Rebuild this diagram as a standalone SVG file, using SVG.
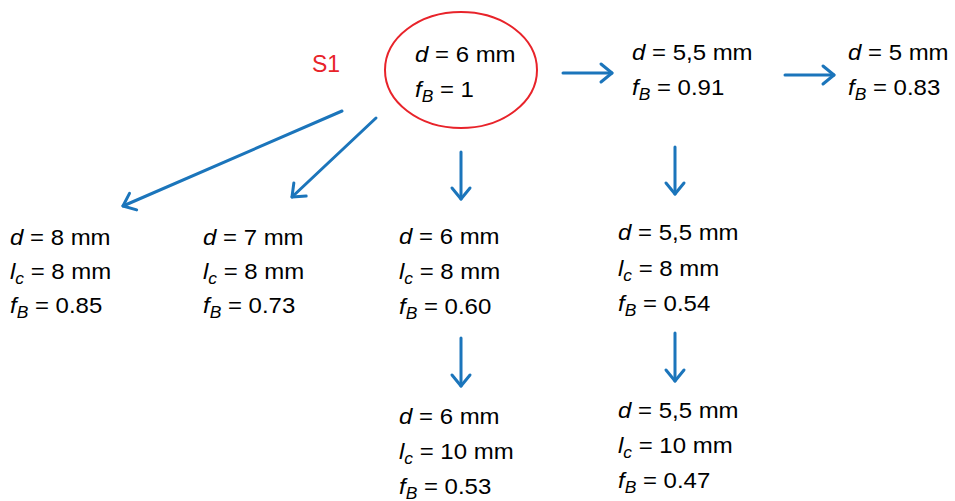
<svg xmlns="http://www.w3.org/2000/svg" width="955" height="501" viewBox="0 0 955 501">
<defs>
<marker id="ah" markerUnits="userSpaceOnUse" markerWidth="30" markerHeight="30" refX="0" refY="0" viewBox="-15 -15 30 30" orient="auto" overflow="visible">
<path d="M-11,-9 L0,0 L-11,9" fill="none" stroke="#1b75bb" stroke-width="3" stroke-linecap="round" stroke-linejoin="round"/>
</marker>
</defs>
<style>
text{font-family:"Liberation Sans",Arial,sans-serif;font-size:22px;fill:#000}
.i{font-style:italic}
.s{font-style:italic;font-size:16px}
.red{fill:#e8232a;font-size:23px}
.c{fill:none;stroke:#1b75bb;stroke-width:3;stroke-linecap:round;marker-end:url(#ah)}
</style>
<rect width="955" height="501" fill="#fff"/>
<g id="connectors">
<line class="c" x1="342" y1="111" x2="123" y2="206"/>
<line class="c" x1="376" y1="118" x2="292" y2="197"/>
<line class="c" x1="461" y1="152" x2="461" y2="199"/>
<line class="c" x1="563" y1="73" x2="612" y2="73"/>
<line class="c" x1="785" y1="75" x2="834" y2="75"/>
<line class="c" x1="675" y1="147" x2="675" y2="194"/>
<line class="c" x1="461" y1="338" x2="461" y2="386"/>
<line class="c" x1="675" y1="333" x2="675" y2="381"/>
</g>
<g id="S1"><text class="red" x="312" y="72">S1</text></g>
<g id="n_d6_root">
<ellipse cx="461" cy="70" rx="76" ry="58" fill="none" stroke="#e8232a" stroke-width="2"/>
<g transform="translate(415,62) scale(1.09,1)">
<text x="0" y="0"><tspan class="i">d</tspan> = 6 mm</text>
<text x="0" y="35"><tspan class="i">f</tspan><tspan class="s" dy="5">B</tspan><tspan dy="-5"> = 1</tspan></text>
</g>
</g>
<g id="n_d55" transform="translate(632,60) scale(1.09,1)">
<text x="0" y="0"><tspan class="i">d</tspan> = 5,5 mm</text>
<text x="0" y="35"><tspan class="i">f</tspan><tspan class="s" dy="5">B</tspan><tspan dy="-5"> = 0.91</tspan></text>
</g>
<g id="n_d5" transform="translate(848,60) scale(1.09,1)">
<text x="0" y="0"><tspan class="i">d</tspan> = 5 mm</text>
<text x="0" y="35"><tspan class="i">f</tspan><tspan class="s" dy="5">B</tspan><tspan dy="-5"> = 0.83</tspan></text>
</g>
<g id="n_d8" transform="translate(10,245) scale(1.09,1)">
<text x="0" y="0"><tspan class="i">d</tspan> = 8 mm</text>
<text x="0" y="34"><tspan class="i">l</tspan><tspan class="s" dy="5">c</tspan><tspan dy="-5"> = 8 mm</tspan></text>
<text x="0" y="68"><tspan class="i">f</tspan><tspan class="s" dy="5">B</tspan><tspan dy="-5"> = 0.85</tspan></text>
</g>
<g id="n_d7" transform="translate(203,245) scale(1.09,1)">
<text x="0" y="0"><tspan class="i">d</tspan> = 7 mm</text>
<text x="0" y="34"><tspan class="i">l</tspan><tspan class="s" dy="5">c</tspan><tspan dy="-5"> = 8 mm</tspan></text>
<text x="0" y="68"><tspan class="i">f</tspan><tspan class="s" dy="5">B</tspan><tspan dy="-5"> = 0.73</tspan></text>
</g>
<g id="n_d6_l8" transform="translate(399,244) scale(1.09,1)">
<text x="0" y="0"><tspan class="i">d</tspan> = 6 mm</text>
<text x="0" y="35"><tspan class="i">l</tspan><tspan class="s" dy="5">c</tspan><tspan dy="-5"> = 8 mm</tspan></text>
<text x="0" y="70"><tspan class="i">f</tspan><tspan class="s" dy="5">B</tspan><tspan dy="-5"> = 0.60</tspan></text>
</g>
<g id="n_d55_l8" transform="translate(618,240) scale(1.09,1)">
<text x="0" y="0"><tspan class="i">d</tspan> = 5,5 mm</text>
<text x="0" y="36"><tspan class="i">l</tspan><tspan class="s" dy="5">c</tspan><tspan dy="-5"> = 8 mm</tspan></text>
<text x="0" y="71"><tspan class="i">f</tspan><tspan class="s" dy="5">B</tspan><tspan dy="-5"> = 0.54</tspan></text>
</g>
<g id="n_d6_l10" transform="translate(399,424) scale(1.09,1)">
<text x="0" y="0"><tspan class="i">d</tspan> = 6 mm</text>
<text x="0" y="35"><tspan class="i">l</tspan><tspan class="s" dy="5">c</tspan><tspan dy="-5"> = 10 mm</tspan></text>
<text x="0" y="70"><tspan class="i">f</tspan><tspan class="s" dy="5">B</tspan><tspan dy="-5"> = 0.53</tspan></text>
</g>
<g id="n_d55_l10" transform="translate(618,418) scale(1.09,1)">
<text x="0" y="0"><tspan class="i">d</tspan> = 5,5 mm</text>
<text x="0" y="35"><tspan class="i">l</tspan><tspan class="s" dy="5">c</tspan><tspan dy="-5"> = 10 mm</tspan></text>
<text x="0" y="70"><tspan class="i">f</tspan><tspan class="s" dy="5">B</tspan><tspan dy="-5"> = 0.47</tspan></text>
</g>
</svg>
